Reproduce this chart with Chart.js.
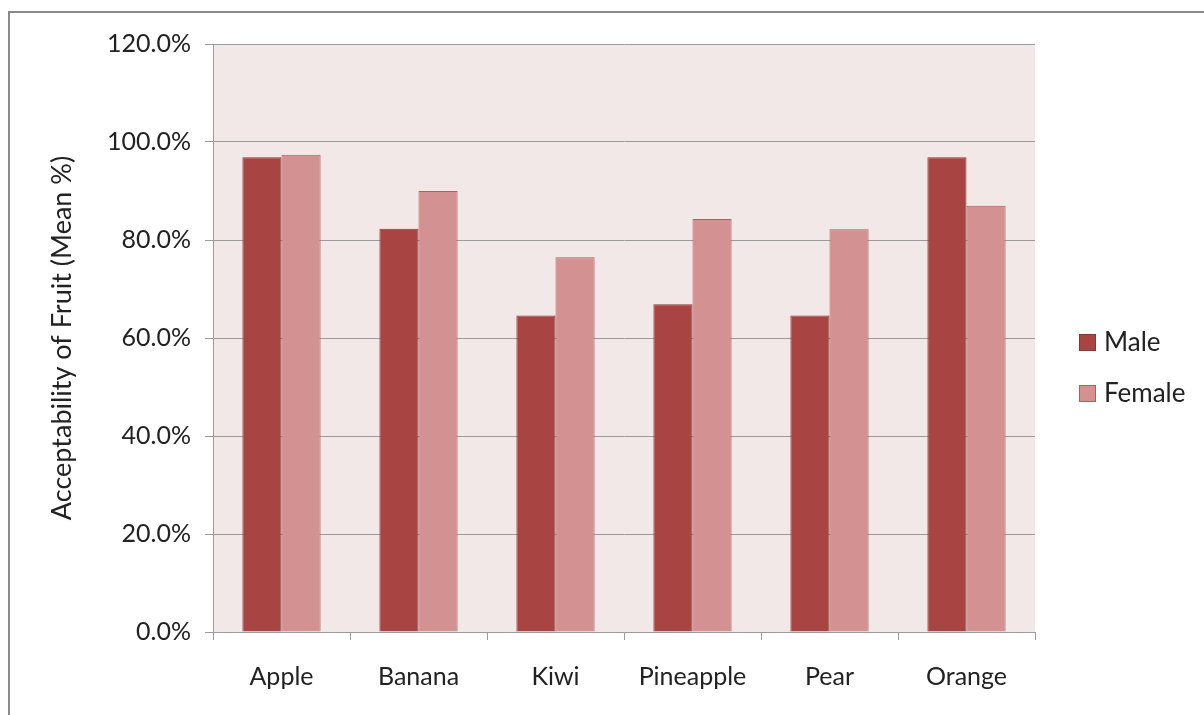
<!DOCTYPE html>
<html>
<head>
<meta charset="utf-8">
<script src="https://cdn.jsdelivr.net/npm/chart.js@4/dist/chart.umd.min.js"></script>
<style>
  html, body { margin: 0; padding: 0; background: #fff; }
  #wrap { width: 1204px; height: 715px; }
</style>
</head>
<body>
<div id="wrap"><canvas id="fruit-chart" width="1204" height="715"></canvas></div>
<script>
const fruits = ['Apple', 'Banana', 'Kiwi', 'Pineapple', 'Pear', 'Orange'];
const maleScores = [96.9, 82.3, 64.6, 66.9, 64.6, 96.9];
const femaleScores = [97.4, 90.0, 76.5, 84.3, 82.2, 87.0];
const yTicks = [0, 20, 40, 60, 80, 100, 120];

const FONT = 'Lato, "Open Sans", sans-serif';
const TEXT = '#222';
const GRID = '#9b9b9b';

// white page, grey frame, pink plot area
const backdrop = {
    id: 'backdrop',
    beforeDraw(chart) {
        const { ctx, chartArea: a } = chart;
        ctx.save();
        ctx.fillStyle = '#fff';
        ctx.fillRect(0, 0, chart.width, chart.height);
        ctx.strokeStyle = '#8a8a8a';
        ctx.lineWidth = 2;
        ctx.strokeRect(9, 12, chart.width + 20, chart.height + 20);
        ctx.fillStyle = '#f2e8e8';
        ctx.fillRect(a.left, a.top, a.right - a.left, a.bottom - a.top);
        ctx.restore();
    }
};

// legend on the right, drawn by hand so the plot keeps its width
const sideLegend = {
    id: 'sideLegend',
    afterDraw(chart) {
        const { ctx } = chart;
        const rows = [342, 393];
        ctx.save();
        ctx.font = '26px ' + FONT;
        ctx.textBaseline = 'middle';
        chart.data.datasets.forEach((ds, i) => {
            const y = rows[i];
            ctx.fillStyle = ds.backgroundColor;
            ctx.fillRect(1079, y - 8, 17, 17);
            ctx.strokeStyle = ds.borderColor;
            ctx.lineWidth = 1;
            ctx.strokeRect(1079.5, y - 7.5, 16, 16);
            ctx.fillStyle = TEXT;
            ctx.fillText(ds.label, 1104, y + 1);
        });
        ctx.restore();
    }
};

new Chart(document.getElementById('fruit-chart'), {
    type: 'bar',
    data: {
        labels: fruits,
        datasets: [
            {
                label: 'Male',
                data: maleScores,
                backgroundColor: '#a84543',
                borderColor: '#8c3535',
                borderWidth: 1
            },
            {
                label: 'Female',
                data: femaleScores,
                backgroundColor: '#d39191',
                borderColor: '#b65a5a',
                borderWidth: 1
            }
        ]
    },
    options: {
        responsive: false,
        animation: false,
        layout: { padding: { top: 44, right: 169, left: 0, bottom: 0 } },
        datasets: {
            bar: { categoryPercentage: 0.571, barPercentage: 1.0 }
        },
        plugins: {
            legend: { display: false },
            tooltip: { enabled: false }
        },
        scales: {
            x: {
                afterFit(scale) { scale.height = 83; },
                grid: {
                    offset: true,
                    drawOnChartArea: false,
                    drawTicks: true,
                    tickLength: 8,
                    color: GRID
                },
                border: { display: true, color: GRID, width: 1 },
                ticks: {
                    color: TEXT,
                    font: { family: FONT, size: 25 },
                    padding: 22,
                    maxRotation: 0
                }
            },
            y: {
                min: 0,
                max: 120,
                afterFit(scale) { scale.width = 213; },
                afterBuildTicks(scale) {
                    scale.ticks = yTicks.map(v => ({ value: v }));
                },
                grid: {
                    color: GRID,
                    drawTicks: true,
                    tickLength: 8
                },
                border: { display: true, color: GRID, width: 1 },
                ticks: {
                    color: TEXT,
                    font: { family: FONT, size: 25 },
                    padding: 14,
                    callback: v => v.toFixed(1) + '%'
                },
                title: {
                    display: true,
                    text: 'Acceptability of Fruit (Mean %)',
                    color: TEXT,
                    font: { family: FONT, size: 27 },
                    padding: { top: 46, bottom: 0 }
                }
            }
        }
    },
    plugins: [backdrop, sideLegend]
});
</script>
</body>
</html>
